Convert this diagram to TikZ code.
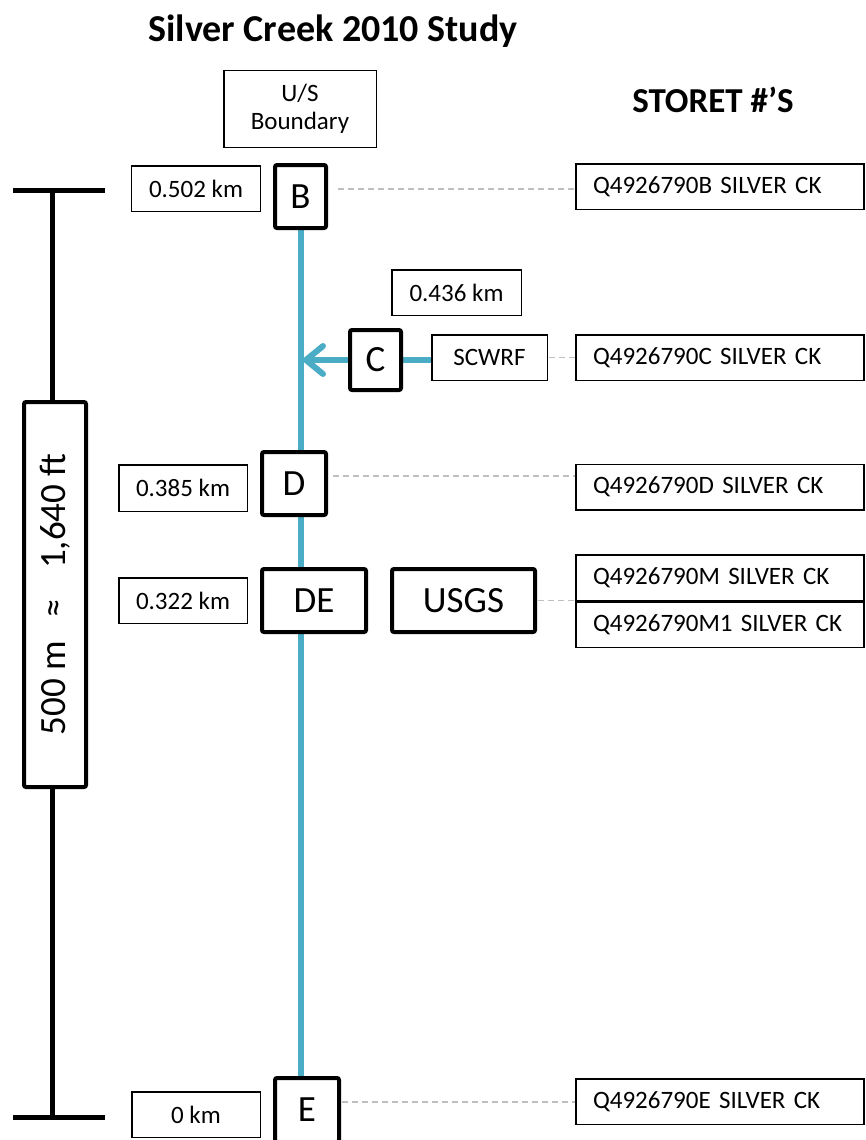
\documentclass[tikz,border=0pt]{standalone}
\usepackage{fontspec}
\setmainfont{Carlito}
\usetikzlibrary{arrows.meta,backgrounds}
\definecolor{creek}{HTML}{4BACC6}
\definecolor{dashgray}{HTML}{BFBFBF}
\begin{document}
\begin{tikzpicture}[x=1pt,y=-1pt,
  thinbox/.style={draw, line width=1.5pt, fill=white, inner sep=0pt, font=\fontsize{25}{28}\selectfont},
  thickbox/.style={draw, line width=4pt, rounded corners=2pt, fill=white, inner sep=0pt, font=\fontsize{37}{44}\selectfont},
  storetbox/.style={thinbox, text width=254pt, inner xsep=17pt, align=left, minimum height=45.5pt},
  river/.style={creek, line width=6pt},
  dashlink/.style={dashgray, line width=1.5pt, dash pattern=on 6pt off 4pt},
  barline/.style={black, line width=5pt}
]
\useasboundingbox (0,0) rectangle (865,1140);

% headings
\node[font=\bfseries\fontsize{38}{44}\selectfont, anchor=base, inner sep=0pt] (title) at (333,42) {Silver Creek 2010 Study};
\node[font=\bfseries\fontsize{35}{42}\selectfont, anchor=base, inner sep=0pt] (storethead) at (713,112) {STORET \#’S};

% upstream boundary
\node[thinbox, minimum width=152.5pt, minimum height=76.5pt, align=center] (us) at (300,109) {U/S\\Boundary};

% distance labels
\node[thinbox, minimum width=129pt, minimum height=45.5pt] (kB) at (196,188.5) {0.502 km};
\node[thinbox, minimum width=129.5pt, minimum height=45.5pt] (kC) at (456.5,292.5) {0.436 km};
\node[thinbox, minimum width=128.5pt, minimum height=46.5pt] (kD) at (183,488) {0.385 km};
\node[thinbox, minimum width=128.5pt, minimum height=45.5pt] (kDE) at (183,600.5) {0.322 km};
\node[thinbox, minimum width=128.5pt, minimum height=45.5pt] (kE) at (196,1114.5) {0 km};

% stations
\node[thickbox, minimum width=51pt, minimum height=63pt] (B) at (300.5,196.5) {B};
\node[thickbox, minimum width=51pt, minimum height=60pt] (C) at (375.5,360) {C};
\node[thickbox, minimum width=64pt, minimum height=63pt] (D) at (294,483.5) {D};
\node[thickbox, minimum width=104pt, minimum height=63pt] (DE) at (314,600.5) {DE};
\node[thickbox, minimum width=143pt, minimum height=63pt] (USGS) at (463.5,600.5) {USGS};
\node[thickbox, minimum width=64pt, minimum height=64pt] (E) at (307,1110) {E};
\node[thinbox, minimum width=115.5pt, minimum height=45.5pt] (SCWRF) at (489.5,357.5) {SCWRF};

% STORET boxes
\node[storetbox] (QB) at (720,186.5) {Q4926790B SILVER CK};
\node[storetbox] (QC) at (720,357.5) {Q4926790C SILVER CK};
\node[storetbox] (QD) at (720,487) {Q4926790D SILVER CK};
\node[storetbox] (QM) at (720,577.5) {Q4926790M SILVER CK};
\node[storetbox] (QM1) at (720,624.5) {Q4926790M1 SILVER CK};
\node[storetbox] (QE) at (720,1101.5) {Q4926790E SILVER CK};

% creek (behind the station boxes)
\begin{pgfonlayer}{background}
\draw[river] (B.south) -- (B.south |- E.north);
\draw[river] (C.east) -- (C.east -| SCWRF.west);
\draw[river, -{Straight Barb[length=17pt,width=28pt,round]}] (C.west) -- ([xshift=2.5pt]C.west -| B.south);
\end{pgfonlayer}

% dashed links
\draw[dashlink] ([xshift=10pt,yshift=7.5pt]B.east) -- ([yshift=7.5pt]B.east -| QB.west);
\draw[dashlink] ([xshift=1pt]SCWRF.east) -- (SCWRF.east -| QC.west);
\draw[dashlink] ([xshift=5pt,yshift=7.5pt]D.east) -- ([yshift=7.5pt]D.east -| QD.west);
\draw[dashlink] ([xshift=1pt]USGS.east) -- (USGS.east -| QM.west);
\draw[dashlink] ([xshift=1pt,yshift=8pt]E.east) -- ([yshift=8pt]E.east -| QE.west);

% scale bar
\node[thickbox, minimum width=385pt, minimum height=62pt, rotate=90, font=\fontsize{37}{44}\selectfont] (sbox) at (55,594.5) {500 m\hspace{24pt}≈\hspace{30pt}1,640 ft};
\coordinate (sctl) at (13,190);
\coordinate (sctr) at (105,190);
\coordinate (sctop) at (52.5,190);
\coordinate (scbl) at (13,1117);
\coordinate (scbr) at (105,1117);
\coordinate (scbot) at (52.5,1117);
\draw[barline] (sctl) -- (sctr);
\draw[barline] (scbl) -- (scbr);
\draw[barline] (sctop) -- (sctop |- sbox.east);
\draw[barline] (scbot |- sbox.west) -- (scbot);
\end{tikzpicture}
\end{document}
